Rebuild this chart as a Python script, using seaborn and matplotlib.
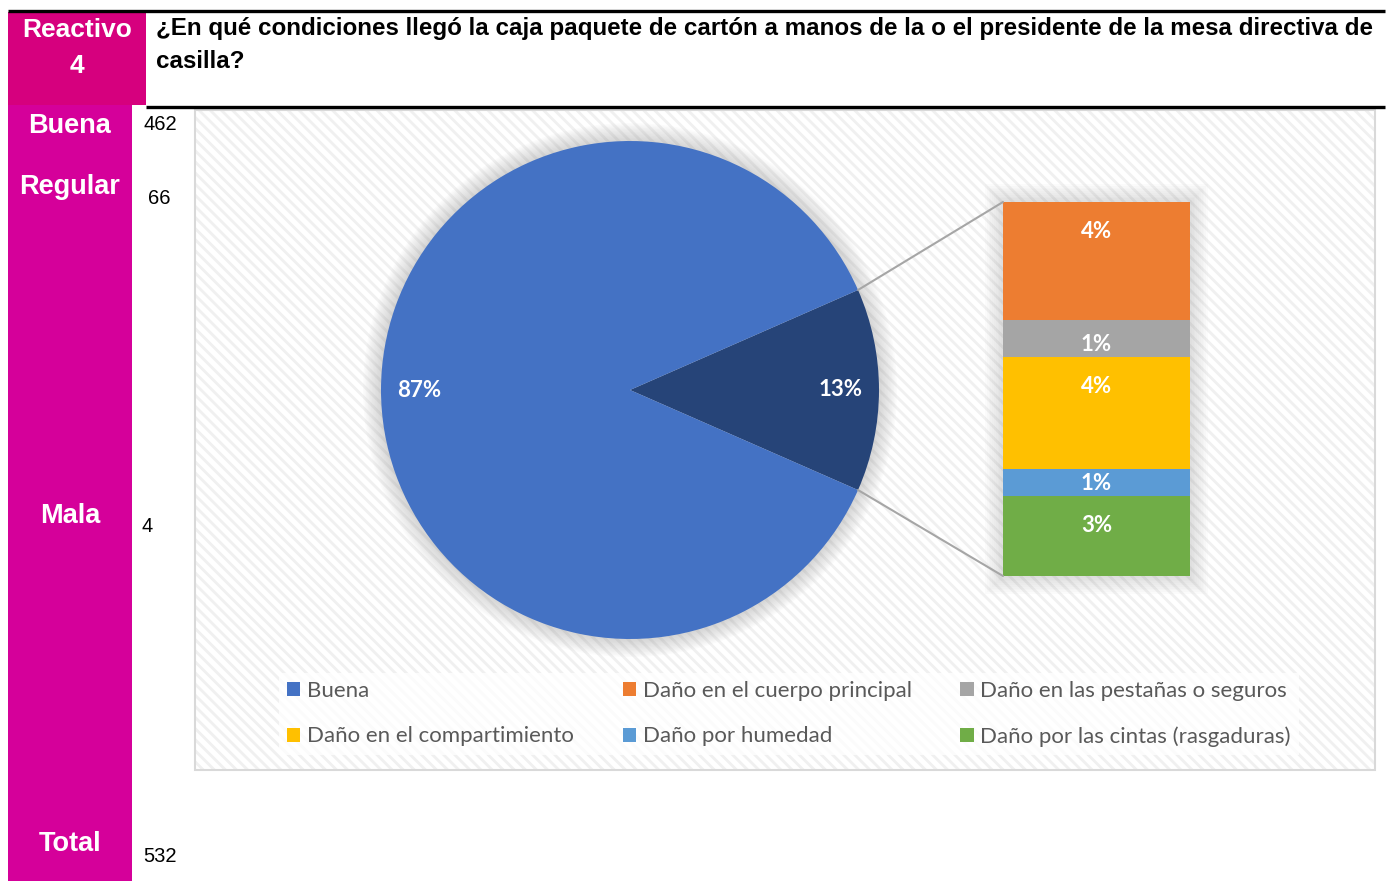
import numpy as np
import matplotlib
matplotlib.use("Agg")
import matplotlib.pyplot as plt
from matplotlib.patches import Rectangle, Circle, Patch, ConnectionPatch
import seaborn as sns

# --- data ---
condiciones = ['Buena', 'Regular', 'Mala', 'Total']
conteos = [462, 66, 4, 532]

pie_labels = ['Daño', 'Buena']
pie_values = [70, 462]

danos = ['Daño en el cuerpo principal', 'Daño en las pestañas o seguros',
         'Daño en el compartimiento', 'Daño por humedad',
         'Daño por las cintas (rasgaduras)']
danos_vals = [22, 7, 21, 5, 15]   # top -> bottom in the bar

titulo = ['¿En qué condiciones llegó la caja paquete de cartón a manos de la o el presidente de la mesa directiva de',
          'casilla?']

# --- styling ---
sns.set_theme(style='white')
plt.rcParams['font.family'] = ['Lato', 'DejaVu Sans']
plt.rcParams['hatch.linewidth'] = 2.0

c_buena = '#4472C4'
c_dano = '#264478'
c_danos = ['#ED7D31', '#A5A5A5', '#FFC000', '#5B9BD5', '#70AD47']
magenta_head = '#D6007E'
magenta_col = '#D5009A'

W, H = 1393, 881
fig = plt.figure(figsize=(W / 100, H / 100), dpi=100)


def frect(x0, y0, x1, y1):
    return [x0 / W, 1 - y1 / H, (x1 - x0) / W, (y1 - y0) / H]


# background / table layer in pixel coords
bg = fig.add_axes([0, 0, 1, 1])
bg.set_xlim(0, W)
bg.set_ylim(H, 0)
bg.axis('off')

bg.add_patch(Rectangle((8, 12), 138, 93, color=magenta_head, lw=0))
bg.add_patch(Rectangle((8, 105), 124, 776, color=magenta_col, lw=0))
bg.plot([8, 1385], [11, 11], color='black', lw=2.4, solid_capstyle='butt')
bg.plot([146, 1385], [106.5, 106.5], color='black', lw=2.4, solid_capstyle='butt')

# chart area with light diagonal stripes
bg.add_patch(Rectangle((195, 110), 1180, 660, facecolor='white',
                       edgecolor='#F0F0F0', hatch='\\\\\\', lw=0))
bg.add_patch(Rectangle((195, 110), 1180, 660, fill=False,
                       edgecolor='#D9D9D9', lw=1.5))

arial = ['Liberation Sans', 'DejaVu Sans']
bg.text(77, 30, 'Reactivo', color='white', fontsize=19, fontweight='bold',
        family=arial, ha='center', va='center')
bg.text(77, 66, '4', color='white', fontsize=19, fontweight='bold',
        family=arial, ha='center', va='center')
bg.text(156, 29, titulo[0], fontsize=17.4, fontweight='bold', family=arial,
        ha='left', va='center', color='black')
bg.text(156, 61, titulo[1], fontsize=17.4, fontweight='bold', family=arial,
        ha='left', va='center', color='black')

lab_y = [126, 187, 516, 844]
num_y = [125, 198, 527, 856]
num_x = [160, 159, 147, 160]
for cond, n, ly, ny, nx in zip(condiciones, conteos, lab_y, num_y, num_x):
    bg.text(70, ly, cond, color='white', fontsize=19.5, fontweight='bold',
            family=arial, ha='center', va='center')
    bg.text(nx, ny, str(n), color='black', fontsize=14.5, family=arial,
            ha='center', va='center')

total = sum(pie_values)

# --- pie ---
cx, cy, R = 630, 390, 249
pad = 1.12
axp = fig.add_axes(frect(cx - R * pad, cy - R * pad, cx + R * pad, cy + R * pad))
for k in range(12):
    axp.add_patch(Circle((0, 0), 1.0 + 0.006 * (k + 1), color='#9A9A9A',
                         alpha=0.035, lw=0, zorder=0))
start = -360 * pie_values[0] / total / 2
wedges, texts, autotexts = axp.pie(
    pie_values, colors=[c_dano, c_buena], startangle=start, counterclock=True,
    autopct=lambda p: f'{p:.0f}%', pctdistance=0.845,
    textprops=dict(color='white', fontsize=16, fontweight='bold'),
    wedgeprops=dict(lw=0))
axp.set_xlim(-pad, pad)
axp.set_ylim(-pad, pad)
axp.set_aspect('equal')
axp.axis('off')

# --- stacked bar of the "Daño" slice ---
axb = fig.add_axes(frect(1003, 202, 1190, 576))
cum = np.cumsum(danos_vals[::-1])[::-1]   # heights from bottom for each segment top
for h, col in zip(cum, c_danos):
    sns.barplot(x=['d'], y=[h], color=col, width=1, saturation=1,
                linewidth=0, ax=axb)
total_d = sum(danos_vals)
axb.set_xlim(-0.5, 0.5)
axb.set_ylim(0, total_d)
axb.axis('off')

px_per_unit = (576 - 202) / total_d
for v, top in zip(danos_vals, cum):
    bottom = top - v
    yc = max(top - 30 / px_per_unit, bottom + 12 / px_per_unit)
    axb.text(0, yc, f'{100 * v / total:.0f}%', color='white', fontsize=16,
             fontweight='bold', ha='center', va='center')

# shadow around the bar
for k in range(10):
    g = 1.8 * (k + 1)
    bg.add_patch(Rectangle((1003 - g, 202 - g), 187 + 2 * g, 374 + 2 * g,
                           color='#9A9A9A', alpha=0.03, lw=0))

# connector lines
theta = np.deg2rad(360 * pie_values[0] / total / 2)
for sgn, yb in [(1, total_d), (-1, 0)]:
    con = ConnectionPatch(xyA=(np.cos(theta), sgn * np.sin(theta)), coordsA=axp.transData,
                          xyB=(-0.5, yb), coordsB=axb.transData,
                          color='#A6A6A6', lw=1.5)
    fig.add_artist(con)

# --- legend (row-wise order like Excel) ---
names = ['Buena'] + danos
cols = [c_buena] + c_danos
handles = [Patch(facecolor=c, edgecolor='none', label=n) for n, c in zip(names, cols)]
order = [0, 3, 1, 4, 2, 5]
leg = fig.legend([handles[i] for i in order], [names[i] for i in order],
                 ncol=3, loc='center left', bbox_to_anchor=(279 / W, 1 - 714 / H),
                 fontsize=16, frameon=True, framealpha=0.75, facecolor='white',
                 edgecolor='none', handlelength=0.6, handleheight=0.6,
                 handletextpad=0.3, columnspacing=2.2, labelspacing=1.15,
                 borderpad=0.35, borderaxespad=0, fancybox=False)
for t in leg.get_texts():
    t.set_color('#595959')

fig.savefig('out.png', dpi=100)
